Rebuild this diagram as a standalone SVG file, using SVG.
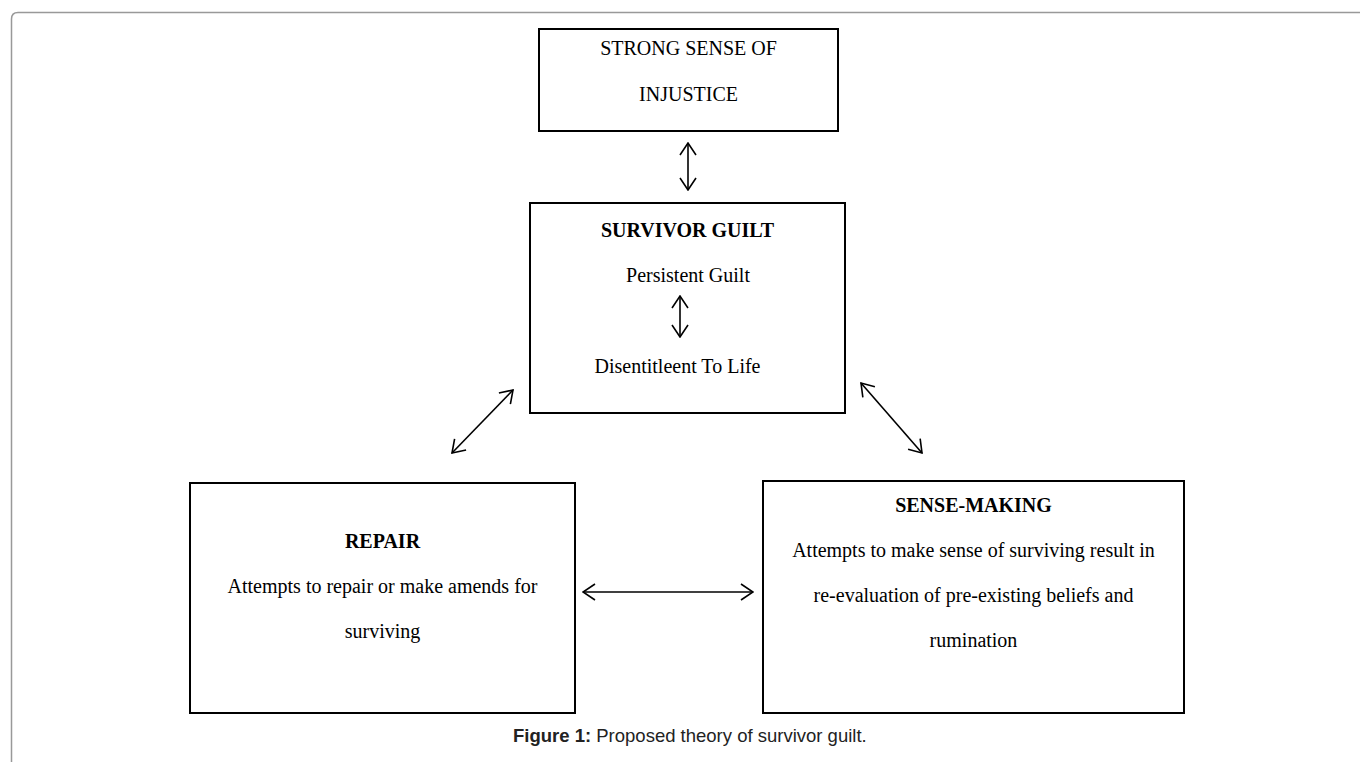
<svg xmlns="http://www.w3.org/2000/svg" width="1360" height="762" viewBox="0 0 1360 762">
<defs>
<style>
.box{fill:#fff;stroke:#000;stroke-width:2}
.t{font-family:"Liberation Serif","Times New Roman",serif;font-size:20px;fill:#000;text-anchor:middle}
.b{font-weight:bold}
.con{stroke:#000;stroke-width:1.6;fill:none}
.cap{font-family:"Liberation Sans",Arial,sans-serif;font-size:18.5px;fill:#222}
</style>
<marker id="ah" viewBox="0 0 14 18" refX="13" refY="9" markerWidth="14" markerHeight="18" markerUnits="userSpaceOnUse" orient="auto-start-reverse">
<path d="M1,1 L13,9 L1,17" fill="none" stroke="#000" stroke-width="1.6"/>
</marker>
</defs>
<rect width="1360" height="762" fill="#fff"/>
<path d="M11.5,762 V19 Q11.5,12.5 18,12.5 H1360" fill="none" stroke="#999" stroke-width="1.5"/>
<g id="injustice">
<rect class="box" x="539" y="29" width="299" height="102"/>
<text class="t" x="688.5" y="55">STRONG SENSE OF</text>
<text class="t" x="688.5" y="101">INJUSTICE</text>
</g>
<g id="survivor-guilt">
<rect class="box" x="530" y="203" width="315" height="210"/>
<text class="t b" x="687.5" y="237">SURVIVOR GUILT</text>
<text class="t" x="688" y="282">Persistent Guilt</text>
<text class="t" x="677.5" y="373">Disentitleent To Life</text>
</g>
<g id="repair">
<rect class="box" x="190" y="483" width="385" height="230"/>
<text class="t b" x="382.5" y="548">REPAIR</text>
<text class="t" x="382.5" y="593">Attempts to repair or make amends for</text>
<text class="t" x="382.5" y="638">surviving</text>
</g>
<g id="sense-making">
<rect class="box" x="763" y="481" width="421" height="232"/>
<text class="t b" x="973.5" y="512">SENSE-MAKING</text>
<text class="t" x="973.5" y="557">Attempts to make sense of surviving result in</text>
<text class="t" x="973.5" y="602">re-evaluation of pre-existing beliefs and</text>
<text class="t" x="973.5" y="647">rumination</text>
</g>
<g id="connectors">
<line class="con" x1="688" y1="143" x2="688" y2="190" marker-start="url(#ah)" marker-end="url(#ah)"/>
<line class="con" x1="680" y1="296" x2="680" y2="337" marker-start="url(#ah)" marker-end="url(#ah)"/>
<line class="con" x1="452" y1="453" x2="513" y2="390" marker-start="url(#ah)" marker-end="url(#ah)"/>
<line class="con" x1="861" y1="383" x2="922" y2="453" marker-start="url(#ah)" marker-end="url(#ah)"/>
<line class="con" x1="583" y1="592" x2="753" y2="592" marker-start="url(#ah)" marker-end="url(#ah)"/>
</g>
<text class="cap" x="513" y="742"><tspan font-weight="bold">Figure 1:</tspan> Proposed theory of survivor guilt.</text>
</svg>
